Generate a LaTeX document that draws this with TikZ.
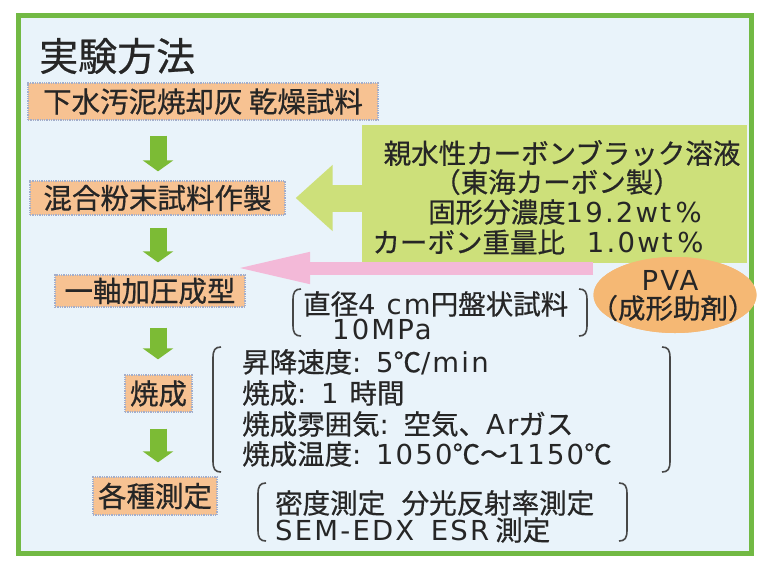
\documentclass[tikz,border=0pt]{standalone}
\usepackage{fontspec}
\setmainfont{Noto Sans CJK JP}[FakeBold=0.6]
\newfontfamily\latfont{DejaVu Sans}[LetterSpace=8]
\newcommand{\LT}[1]{{\latfont #1}}
\usetikzlibrary{arrows.meta,shapes.geometric}
\definecolor{bg}{HTML}{E9F3FA}
\definecolor{framegreen}{HTML}{72B944}
\definecolor{boxor}{HTML}{F7C292}
\definecolor{boxedge}{HTML}{A3AECB}
\definecolor{arrgreen}{HTML}{7CBB35}
\definecolor{cbfill}{HTML}{CDE07A}
\definecolor{pinkarr}{HTML}{F3B9D8}
\definecolor{pvafill}{HTML}{F5B874}
\definecolor{ink}{HTML}{262626}
\newcommand{\mylbr}[3]{\draw[brk] (#1+8,#2) .. controls (#1+2,#2) and (#1,#2+3) .. (#1,#2+11) -- (#1,#3-11) .. controls (#1,#3-3) and (#1+2,#3) .. (#1+8,#3);}
\newcommand{\myrbr}[3]{\draw[brk] (#1-8,#2) .. controls (#1-2,#2) and (#1,#2+3) .. (#1,#2+11) -- (#1,#3-11) .. controls (#1,#3-3) and (#1-2,#3) .. (#1-8,#3);}
\begin{document}
\begin{tikzpicture}[x=1pt,y=-1pt,
  stepbox/.style={fill=boxor, draw=boxedge, densely dotted, line width=1.3pt, inner sep=0pt, font=\fontsize{28.5}{30}\selectfont, text=ink},
  garrow/.style={draw=arrgreen, line width=17pt, -{Triangle[width=30pt,length=11pt]}},
  cbarrow/.style={draw=cbfill, line width=27pt, -{Triangle[width=64pt,length=37pt]}},
  parrow/.style={draw=pinkarr, line width=13pt, -{Triangle[width=28pt,length=78pt]}},
  txt/.style={font=\fontsize{27.5}{30}\selectfont, text=ink, inner sep=0pt},
  brk/.style={draw=ink!85, line width=1.6pt},
]
\useasboundingbox (0,0) rectangle (765,563);
\fill[white] (0,0) rectangle (765,563);
\draw[draw=framegreen, line width=5pt, fill=bg] (18,15) rectangle (751,553);

% title
\node[anchor=west, font=\fontsize{39}{42}\selectfont, text=ink, inner sep=0pt] (title) at (39,56) {実験方法};

% step boxes
\node[stepbox, minimum width=350, minimum height=37] (b1) at (203,101.5) {下水汚泥焼却灰 乾燥試料};
\node[stepbox, minimum width=255, minimum height=34] (b2) at (157.5,198) {混合粉末試料作製};
\node[stepbox, minimum width=190, minimum height=32] (b3) at (150,291) {一軸加圧成型};
\node[stepbox, minimum width=67, minimum height=37] (b4) at (158.5,393.5) {焼成};
\node[stepbox, minimum width=124, minimum height=38] (b5) at (155,496) {各種測定};

% green down arrows
\coordinate (ax) at (158,0);
\draw[garrow, shorten <=15pt, shorten >=9pt] (b1.south -| ax) -- (b2.north -| ax);
\draw[garrow, shorten <=12pt, shorten >=12pt] (b2.south -| ax) -- (b3.north -| ax);
\draw[garrow, shorten <=20pt, shorten >=15pt] (b3.south -| ax) -- (b4.north -| ax);
\draw[garrow, shorten <=16pt, shorten >=14pt] (b4.south -| ax) -- (b5.north -| ax);

% carbon black box
\node[fill=cbfill, minimum width=385, minimum height=138, inner sep=0pt] (cb) at (554.5,194) {};
\node[txt] (cb1) at (562,153) {親水性カーボンブラック溶液};
\node[txt] (cb2) at (557,182) {（東海カーボン製）};
\node[txt] (cb3) at (565,212) {固形分濃度\LT{19.2wt\,\%}};
\node[txt] (cb4) at (538,242) {カーボン重量比\hspace{0.8em}\LT{1.0wt\,\%}};
\draw[cbarrow, shorten <=-3pt, shorten >=10pt] (cb.west |- b2.east) -- (b2.east);

% PVA
\coordinate (pinkend) at (232,268);
\node[ellipse, fill=pvafill, minimum width=163, minimum height=76, inner sep=0pt] (pva) at (675,295) {};
\draw[parrow] (pva.west |- pinkend) -- (pinkend);
\node[ellipse, fill=pvafill, minimum width=163, minimum height=76, inner sep=0pt] at (pva) {};
\node[txt] (pva1) at (670,280) {\LT{PVA}};
\node[txt] (pva2) at (673,308) {（成形助剤）};

% bracket group 1
\mylbr{293}{289}{336}
\myrbr{587}{289}{336}
\node[txt, anchor=north west, align=left, font=\fontsize{27.5}{25}\selectfont] (g1) at (303,291) {直径\LT{4 cm}円盤状試料\\\hspace{1.05em}\LT{10MPa}};

% bracket group 2
\mylbr{213}{347}{472}
\myrbr{670}{347}{472}
\node[txt, anchor=west] (g21) at (242,362) {昇降速度\LT{: 5}℃\LT{/min}};
\node[txt, anchor=west] (g22) at (242,393) {焼成\LT{: 1 }時間};
\node[txt, anchor=west] (g23) at (242,424) {焼成雰囲気\LT{: }空気、\LT{Ar}ガス};
\node[txt, anchor=west] (g24) at (242,454) {焼成温度\LT{: 1050}℃～\LT{1150}℃};

% bracket group 3
\mylbr{258}{483}{541}
\myrbr{627}{483}{541}
\node[txt, anchor=west] (g31) at (275,503) {密度測定\hspace{0.6em}分光反射率測定};
\node[txt, anchor=west] (g32) at (275,530) {\LT{SEM-EDX}\hspace{0.6em}\LT{ESR} 測定};
\end{tikzpicture}
\end{document}
